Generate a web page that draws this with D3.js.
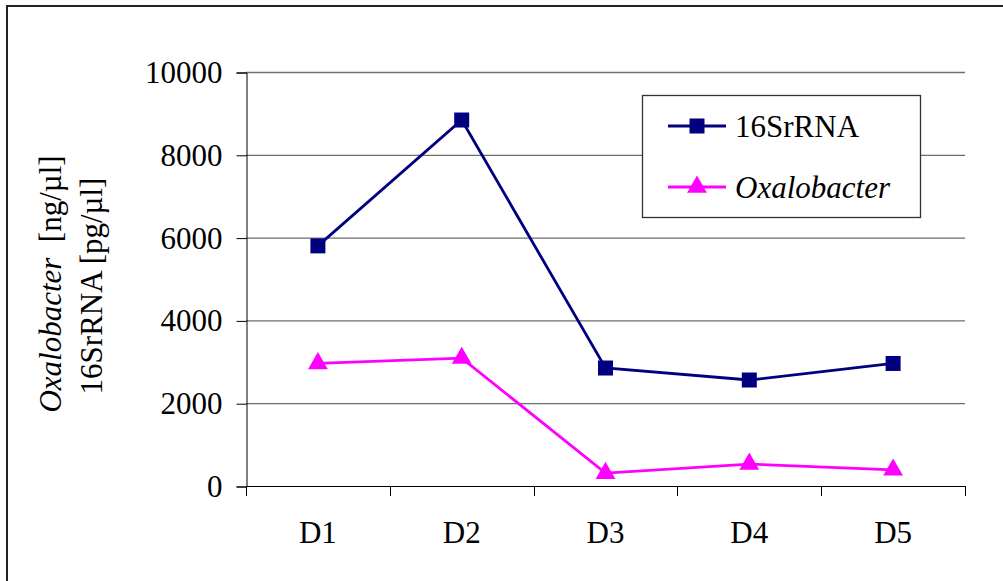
<!DOCTYPE html>
<html>
<head>
<meta charset="utf-8">
<script src="https://cdn.jsdelivr.net/npm/d3@7"></script>
<style>
  html, body { margin: 0; padding: 0; background: #fff; }
  svg { display: block; }
  svg text { font-family: "Liberation Serif", "DejaVu Serif", serif; }
</style>
</head>
<body>
<svg id="chart" width="1003" height="581"></svg>
<script>
// Days sampled
const days = ["D1", "D2", "D3", "D4", "D5"];
// 16SrRNA [pg/µl]
const rrnaValues = [5800, 8840, 2850, 2560, 2960];
// Oxalobacter [ng/µl]
const oxaloValues = [2960, 3090, 310, 530, 390];
// Y axis ticks
const yTicks = [0, 2000, 4000, 6000, 8000, 10000];

const FONT = "'Liberation Serif', 'DejaVu Serif', serif";
const svg = d3.select("#chart");
const plotLeft = 246, plotRight = 965, plotTop = 72, plotBottom = 486;

const x = d3.scaleBand().domain(days).range([plotLeft, plotRight]).padding(0);
const y = d3.scaleLinear().domain([0, 10000]).range([plotBottom, plotTop]);

// Outer frame (top and left edges)
svg.append("path")
  .attr("d", "M7,1003 L7,6 L1003,6")
  .attr("fill", "none").attr("stroke", "#222").attr("stroke-width", 2);

// Horizontal gridlines
svg.append("g").selectAll("line").data(yTicks.filter(d => d > 0)).join("line")
  .attr("x1", plotLeft).attr("x2", plotRight)
  .attr("y1", d => y(d) + 0.5).attr("y2", d => y(d) + 0.5)
  .attr("stroke", "#6e6e6e").attr("stroke-width", 1.3);

// Y axis
const yAxis = d3.axisLeft(y).tickValues(yTicks).tickSize(10).tickPadding(14).tickFormat(d3.format("d"));
const gy = svg.append("g").attr("transform", `translate(${plotLeft + 0.5},0.5)`).call(yAxis)
  .attr("font-family", FONT);
gy.select(".domain").attr("stroke", "#000");
gy.selectAll(".tick line").attr("stroke", "#000");
gy.selectAll(".tick text").attr("font-size", 31).attr("fill", "#000").attr("font-family", FONT);

// X axis: ticks on category boundaries, labels at centres
const gx = svg.append("g");
gx.append("line").attr("x1", plotLeft).attr("x2", plotRight)
  .attr("y1", plotBottom + 0.5).attr("y2", plotBottom + 0.5).attr("stroke", "#000");
const bounds = days.map(d => x(d)).concat([x(days[days.length - 1]) + x.bandwidth()]);
gx.selectAll("line.tk").data(bounds).join("line").attr("class", "tk")
  .attr("x1", d => Math.round(d) + 0.5).attr("x2", d => Math.round(d) + 0.5)
  .attr("y1", plotBottom).attr("y2", plotBottom + 10).attr("stroke", "#000");
gx.selectAll("text").data(days).join("text")
  .attr("x", d => x(d) + x.bandwidth() / 2).attr("y", 543)
  .attr("text-anchor", "middle").attr("font-size", 31).attr("fill", "#000")
  .attr("font-family", FONT)
  .text(d => d);

// Axis title (two rotated lines)
const t1 = svg.append("text").attr("transform", "translate(61,284) rotate(-90)")
  .attr("font-size", 31).attr("fill", "#000").attr("text-anchor", "middle")
  .attr("font-family", FONT);
t1.append("tspan").attr("font-style", "italic").text("Oxalobacter");
t1.append("tspan").text("\u00a0 [ng/\u00b5l]");
svg.append("text").attr("transform", "translate(102,286) rotate(-90)")
  .attr("font-size", 31).attr("fill", "#000").attr("text-anchor", "middle")
  .attr("font-family", FONT)
  .text("16SrRNA [pg/\u00b5l]");

const cx = d => x(d) + x.bandwidth() / 2;
const line = d3.line().x((v, i) => cx(days[i])).y(v => y(v));

// 16SrRNA series
svg.append("path").datum(rrnaValues).attr("d", line)
  .attr("fill", "none").attr("stroke", "#000080").attr("stroke-width", 2.8);
svg.append("g").selectAll("rect").data(rrnaValues).join("rect")
  .attr("x", (v, i) => cx(days[i]) - 7.5).attr("y", v => y(v) - 7.5)
  .attr("width", 15).attr("height", 15).attr("fill", "#000080");

// Oxalobacter series
const tri = d3.symbol().type(d3.symbolTriangle).size(170);
svg.append("path").datum(oxaloValues).attr("d", line)
  .attr("fill", "none").attr("stroke", "#ff00ff").attr("stroke-width", 2.8);
svg.append("g").selectAll("path").data(oxaloValues).join("path")
  .attr("d", tri)
  .attr("transform", (v, i) => `translate(${cx(days[i])},${y(v)})`)
  .attr("fill", "#ff00ff");

// Legend
const lg = svg.append("g");
lg.append("rect").attr("x", 642.5).attr("y", 95.5).attr("width", 278).attr("height", 122)
  .attr("fill", "#fff").attr("stroke", "#333").attr("stroke-width", 1.3);
const legendItems = [
  { name: "16SrRNA", color: "#000080", marker: "square", italic: false, y: 126 },
  { name: "Oxalobacter", color: "#ff00ff", marker: "triangle", italic: true, y: 187 }
];
legendItems.forEach(it => {
  lg.append("line").attr("x1", 668).attr("x2", 726).attr("y1", it.y).attr("y2", it.y)
    .attr("stroke", it.color).attr("stroke-width", 2.8);
  if (it.marker === "square") {
    lg.append("rect").attr("x", 697 - 7.5).attr("y", it.y - 7.5).attr("width", 15).attr("height", 15)
      .attr("fill", it.color);
  } else {
    lg.append("path").attr("d", tri).attr("transform", `translate(697,${it.y})`).attr("fill", it.color);
  }
  lg.append("text").attr("x", 735).attr("y", it.y + 11).attr("font-size", 31)
    .attr("font-family", FONT)
    .attr("font-style", it.italic ? "italic" : "normal").attr("fill", "#000").text(it.name);
});
</script>
</body>
</html>
